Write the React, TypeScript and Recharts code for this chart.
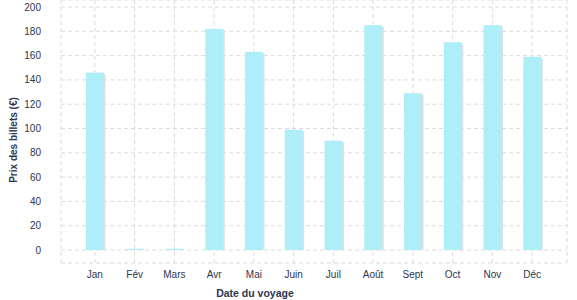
import { BarChart, Bar, XAxis, YAxis, CartesianGrid } from "recharts"

// Prix moyen des billets par mois de départ
const months = ["Jan", "Fév", "Mars", "Avr", "Mai", "Juin", "Juil", "Août", "Sept", "Oct", "Nov", "Déc"]
const prices = [146, 1, 1, 182, 163, 99, 90, 185, 129, 171, 185, 159]
const yTicks = [0, 20, 40, 60, 80, 100, 120, 140, 160, 180, 200]

const data = months.map((m, i) => ({ month: m, price: prices[i] }))

const TEXT = "#2d3650"
const FONT = "'Liberation Sans', Arial, sans-serif"

// bar with a small grey drop shadow on the right
function ShadowBar(props: any) {
  const { x, y, width, height } = props
  if (!height || height <= 0) return null
  return (
    <g>
      <rect x={x + 1.5} y={y + 1.5} width={width} height={Math.max(height - 1.5, 0)} fill="#e0e0e0" />
      <rect x={x} y={y} width={width} height={height} fill="#adeef9" />
    </g>
  )
}

export default function App() {
  return (
    <div style={{ width: 577, height: 300, fontFamily: FONT }}>
      <style>{`body{margin:0}`}</style>
      <BarChart
        width={577}
        height={300}
        data={data}
        margin={{ top: 0, right: 10, left: 0, bottom: 7 }}
      >
        <CartesianGrid stroke="#dcdcdc" strokeDasharray="4 3" />
        <XAxis
          dataKey="month"
          tickLine={false}
          axisLine={false}
          padding={{ left: 14, right: 15 }}
          tick={{ fontSize: 10, fill: TEXT, fontFamily: FONT }}
          label={{
            content: ({ viewBox }: any) => (
              <text
                x={viewBox.x + viewBox.width / 2 - 59}
                y={297}
                textAnchor="middle"
                fontSize={10.5}
                fontWeight="bold"
                fill={TEXT}
                fontFamily={FONT}
              >
                Date du voyage
              </text>
            ),
          }}
        />
        <YAxis
          width={61}
          domain={[0, 200]}
          ticks={yTicks}
          interval={0}
          tickLine={false}
          axisLine={false}
          tickMargin={14}
          padding={{ top: 7, bottom: 13 }}
          tick={{ fontSize: 10, fill: TEXT, fontFamily: FONT }}
          label={{
            content: () => (
              <text
                x={0}
                y={0}
                transform="translate(17, 140) rotate(-90)"
                textAnchor="middle"
                fontSize={10}
                fontWeight="bold"
                fill={TEXT}
                fontFamily={FONT}
              >
                Prix des billets (€)
              </text>
            ),
          }}
        />
        <Bar dataKey="price" barSize={18} shape={<ShadowBar />} isAnimationActive={false} />
      </BarChart>
    </div>
  )
}
